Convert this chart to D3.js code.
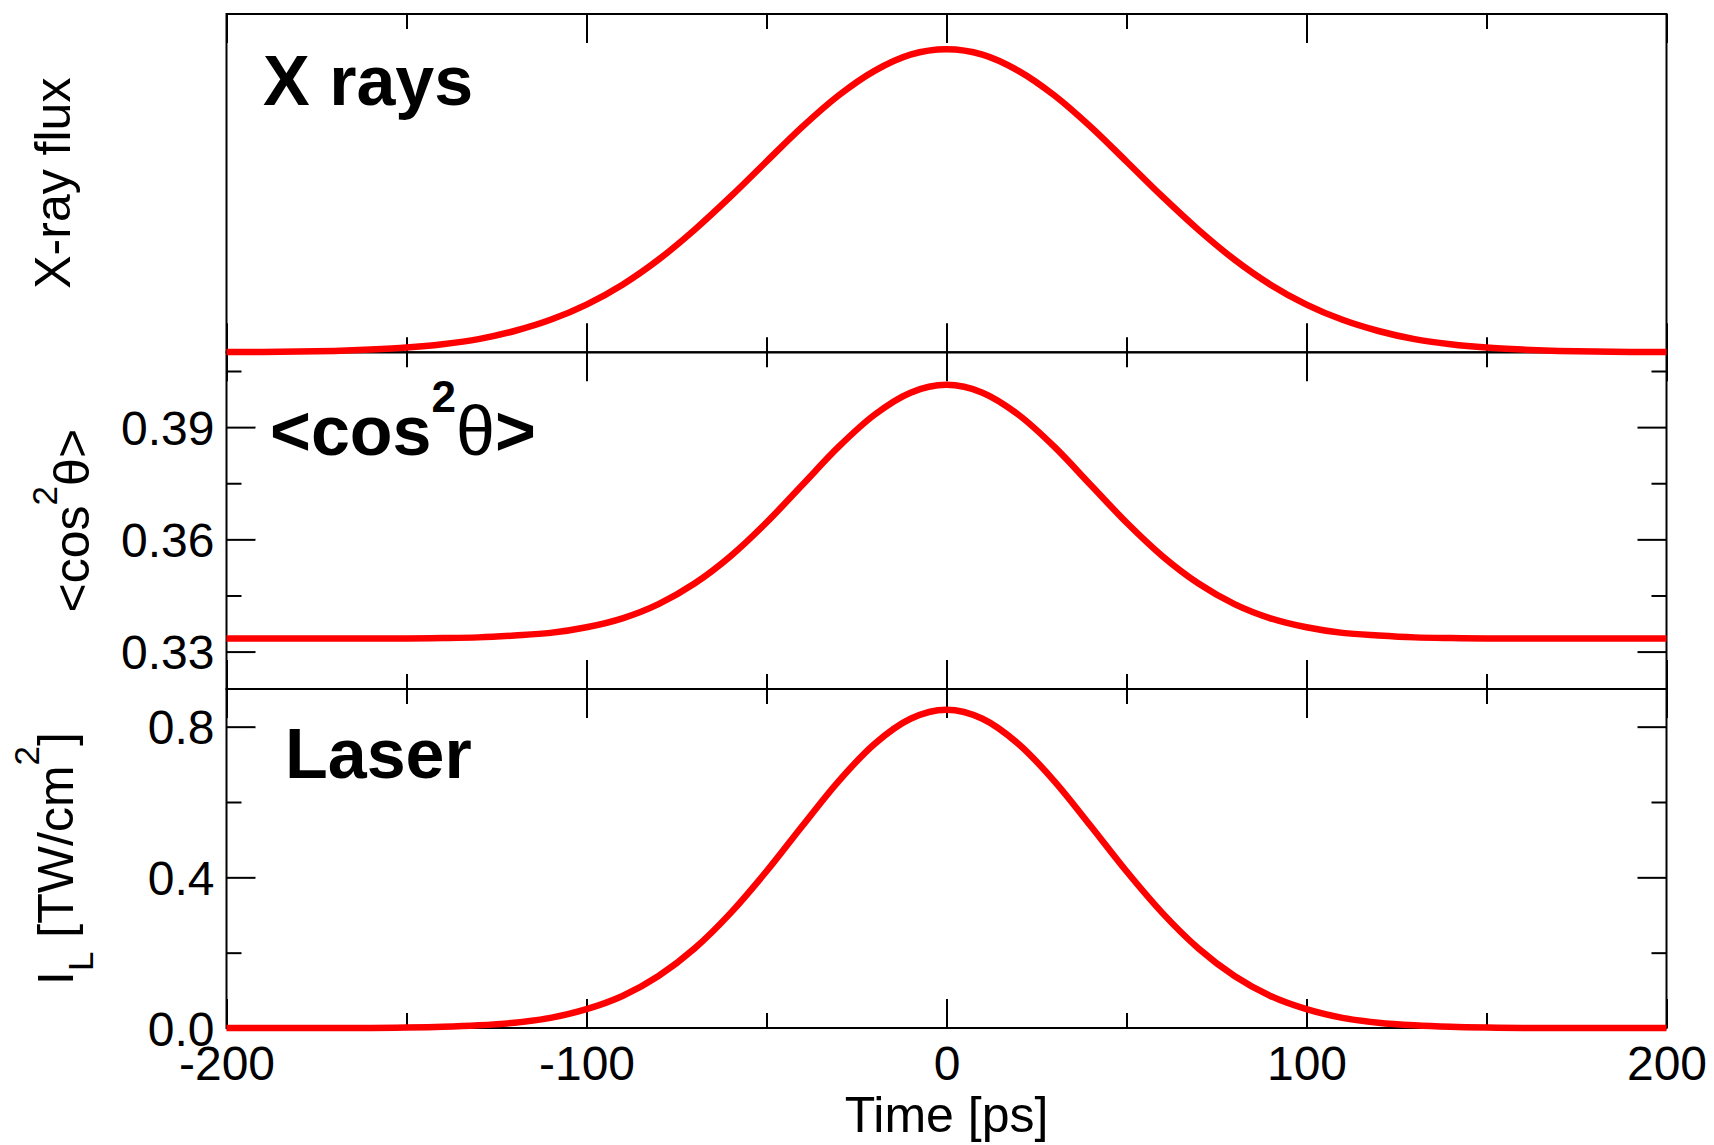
<!DOCTYPE html>
<html lang="en">
<head>
    <meta charset="UTF-8">
    <title>X rays / alignment / laser</title>
    <script src="https://cdnjs.cloudflare.com/ajax/libs/d3/7.8.5/d3.min.js"></script>
    <style>
        body {
            margin: 0;
            padding: 0;
            background: #fff;
        }
        svg text {
            font-family: "Liberation Sans", Arial, Helvetica, sans-serif;
            fill: #000;
        }
        .tick line {
            stroke: #000;
            stroke-width: 2;
        }
    </style>
</head>
<body>
    <svg id="chart" width="1714" height="1145"></svg>

    <script>
        // time axis samples [ps]
        const time = [-200, -190, -180, -170, -160, -150, -140, -130, -120, -110,
                      -100, -90, -80, -70, -60, -50, -40, -30, -20, -10,
                      0, 10, 20, 30, 40, 50, 60, 70, 80, 90,
                      100, 110, 120, 130, 140, 150, 160, 170, 180, 190, 200];

        // X-ray flux (arb. units)
        const xrayFlux = [0.001, 0.001, 0.002, 0.004, 0.008, 0.014, 0.024, 0.039, 0.063, 0.096,
                          0.141, 0.200, 0.274, 0.362, 0.460, 0.564, 0.667, 0.759, 0.832, 0.880,
                          0.896, 0.880, 0.832, 0.759, 0.667, 0.564, 0.460, 0.362, 0.274, 0.200,
                          0.141, 0.096, 0.063, 0.039, 0.024, 0.014, 0.008, 0.004, 0.002, 0.001, 0.001];

        // <cos^2 theta>
        const cos2 = [0.3335, 0.3335, 0.3335, 0.3335, 0.3335, 0.3335, 0.3336, 0.3338, 0.3343, 0.3350,
                      0.3365, 0.3389, 0.3427, 0.3482, 0.3555, 0.3645, 0.3746, 0.3847, 0.3933, 0.3992,
                      0.4013, 0.3992, 0.3933, 0.3847, 0.3746, 0.3645, 0.3555, 0.3482, 0.3427, 0.3389,
                      0.3365, 0.3350, 0.3343, 0.3338, 0.3336, 0.3335, 0.3335, 0.3335, 0.3335, 0.3335, 0.3335];

        // laser intensity [TW/cm^2]
        const laser = [0, 0, 0, 0, 0, 0.001, 0.003, 0.007, 0.014, 0.027,
                       0.050, 0.085, 0.138, 0.211, 0.305, 0.416, 0.537, 0.655, 0.754, 0.821,
                       0.845, 0.821, 0.754, 0.655, 0.537, 0.416, 0.305, 0.211, 0.138, 0.085,
                       0.050, 0.027, 0.014, 0.007, 0.003, 0.001, 0, 0, 0, 0, 0];

        // tick values
        const xMajor = [-200, -100, 0, 100, 200];
        const xMinor = [-150, -50, 50, 150];
        const cosMajor = [0.33, 0.36, 0.39];
        const cosMinor = [0.345, 0.375, 0.405];
        const laserMajor = [0.0, 0.4, 0.8];
        const laserMinor = [0.2, 0.6];

        const svg = d3.select("#chart");
        const left = 226.5, right = 1666.5;
        const MAJOR = 29, MINOR = 15;

        const x = d3.scaleLinear().domain([-200, 200]).range([left, right]);

        const panels = [
            { top: 14,    bottom: 352.3, domain: [0, 1],       values: xrayFlux },
            { top: 352.3, bottom: 689,   domain: [0.32, 0.41], values: cos2,
              major: cosMajor, minor: cosMinor, fmt: d3.format(".2f") },
            { top: 689,   bottom: 1028,  domain: [0, 0.9],     values: laser,
              major: laserMajor, minor: laserMinor, fmt: d3.format(".1f") }
        ];

        function clean(g) {
            g.select(".domain").remove();
        }

        panels.forEach((p, i) => {
            p.y = d3.scaleLinear().domain(p.domain).range([p.bottom, p.top]);

            // frame
            svg.append("rect")
                .attr("x", left).attr("y", p.top)
                .attr("width", right - left).attr("height", p.bottom - p.top)
                .attr("fill", "none").attr("stroke", "#000").attr("stroke-width", 2);

            // x ticks, top and bottom, pointing inward
            [[xMajor, MAJOR], [xMinor, MINOR]].forEach(([vals, len]) => {
                svg.append("g")
                    .attr("transform", `translate(0,${p.top})`)
                    .call(d3.axisTop(x).tickValues(vals).tickSize(-len).tickFormat(""))
                    .call(clean);
                svg.append("g")
                    .attr("transform", `translate(0,${p.bottom})`)
                    .call(d3.axisBottom(x).tickValues(vals).tickSize(-len).tickFormat(""))
                    .call(clean);
            });

            // y ticks
            if (p.major) {
                svg.append("g")
                    .attr("transform", `translate(${left},0)`)
                    .call(d3.axisLeft(p.y).tickValues(p.major).tickSize(-MAJOR).tickPadding(12).tickFormat(p.fmt))
                    .call(clean)
                    .call(g => g.selectAll("text")
                        .attr("font-size", 48).attr("dy", "0.36em")
                        .style("font-family", '"Liberation Sans", Arial, sans-serif'));
                svg.append("g")
                    .attr("transform", `translate(${left},0)`)
                    .call(d3.axisLeft(p.y).tickValues(p.minor).tickSize(-MINOR).tickFormat(""))
                    .call(clean);
                svg.append("g")
                    .attr("transform", `translate(${right},0)`)
                    .call(d3.axisRight(p.y).tickValues(p.major).tickSize(-MAJOR).tickFormat(""))
                    .call(clean);
                svg.append("g")
                    .attr("transform", `translate(${right},0)`)
                    .call(d3.axisRight(p.y).tickValues(p.minor).tickSize(-MINOR).tickFormat(""))
                    .call(clean);
            }
        });

        // x tick labels under the bottom panel (plain hyphen for negatives)
        const last = panels[2];
        svg.append("g")
            .attr("transform", `translate(0,${last.bottom})`)
            .call(d3.axisBottom(x).tickValues(xMajor).tickSize(0).tickPadding(18).tickFormat(d => String(d)))
            .call(clean)
            .call(g => g.selectAll("text")
                .attr("font-size", 48)
                .style("font-family", '"Liberation Sans", Arial, sans-serif'));

        // curves
        panels.forEach(p => {
            const line = d3.line()
                .x((d, i) => x(time[i]))
                .y(d => p.y(d))
                .curve(d3.curveMonotoneX);
            svg.append("path")
                .datum(p.values)
                .attr("d", line)
                .attr("fill", "none")
                .attr("stroke", "#ff0000")
                .attr("stroke-width", 6.5);
        });

        // x axis title
        svg.append("text")
            .attr("x", (left + right) / 2).attr("y", 1132)
            .attr("text-anchor", "middle")
            .attr("font-size", 50)
            .text("Time [ps]");

        // y axis titles (rotated)
        function yTitle(cx, cy) {
            return svg.append("text")
                .attr("transform", `translate(${cx},${cy}) rotate(-90)`)
                .attr("text-anchor", "middle")
                .attr("font-size", 50);
        }

        yTitle(70, (panels[0].top + panels[0].bottom) / 2).text("X-ray flux");

        const t2 = yTitle(89, (panels[1].top + panels[1].bottom) / 2);
        t2.append("tspan").text("<cos");
        t2.append("tspan").attr("font-size", 35).attr("dy", -32).text("2");
        t2.append("tspan").attr("dy", 32).text("θ>");

        const t3 = yTitle(73, (panels[2].top + panels[2].bottom) / 2);
        t3.append("tspan").text("I");
        t3.append("tspan").attr("font-size", 35).attr("dy", 20).text("L");
        t3.append("tspan").attr("dy", -20).text(" [TW/cm");
        t3.append("tspan").attr("font-size", 35).attr("dy", -34).text("2");
        t3.append("tspan").attr("dy", 34).text("]");

        // panel labels
        svg.append("text")
            .attr("x", 263).attr("y", 105)
            .attr("font-size", 70).attr("font-weight", "bold")
            .text("X rays");

        const lab2 = svg.append("text")
            .attr("x", 270).attr("y", 455)
            .attr("font-size", 70).attr("font-weight", "bold");
        lab2.append("tspan").text("<cos");
        lab2.append("tspan").attr("font-size", 44).attr("dy", -43).text("2");
        lab2.append("tspan").attr("font-weight", "normal").attr("font-size", 70).attr("dy", 43).text("θ");
        lab2.append("tspan").text(">");

        svg.append("text")
            .attr("x", 285).attr("y", 778)
            .attr("font-size", 70).attr("font-weight", "bold")
            .text("Laser");
    </script>
</body>
</html>
